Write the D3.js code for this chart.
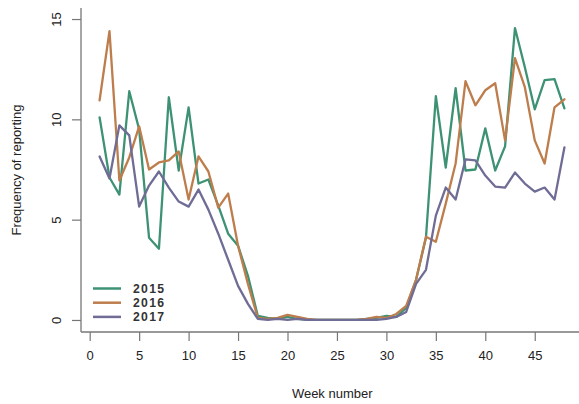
<!DOCTYPE html>
<html><head><meta charset="utf-8">
<script src="https://cdn.jsdelivr.net/npm/d3@7"></script>
<style>
html,body{margin:0;padding:0;background:#fff;}
svg{display:block;font-family:"Liberation Sans",Arial,Helvetica,sans-serif;}
</style></head>
<body>
<script>
const weeks = d3.range(1, 49);
const years = ["2015", "2016", "2017"];
const colors = ["#3e9274", "#bd7d4c", "#6f6c95"];
const v2015 = [10.1,7.1,6.25,11.4,9.5,4.1,3.55,11.1,7.45,10.6,6.8,7.0,5.7,4.3,3.7,2.2,0.2,0.1,0.05,0.15,0.05,0,0,0,0,0,0,0.05,0.1,0.2,0.15,0.6,2.0,4.1,11.15,7.6,11.55,7.45,7.5,9.55,7.45,8.65,14.55,12.6,10.5,11.95,12.0,10.55];
const v2016 = [10.95,14.4,6.95,8.1,9.65,7.5,7.85,7.95,8.4,6.0,8.15,7.4,5.6,6.3,3.7,1.8,0.1,0.05,0.1,0.25,0.15,0.05,0,0,0,0,0,0.05,0.15,0.1,0.3,0.7,2.0,4.15,3.9,5.8,7.8,11.9,10.7,11.45,11.8,8.95,13.05,11.6,8.95,7.8,10.6,11.0];
const v2017 = [8.15,7.05,9.7,9.2,5.65,6.7,7.4,6.6,5.9,5.65,6.5,5.5,4.3,3.0,1.7,0.8,0.05,0,0.05,0,0.05,0,0,0,0,0,0,0,0,0.05,0.15,0.4,1.8,2.5,5.2,6.6,6.0,8.0,7.95,7.2,6.65,6.6,7.35,6.8,6.4,6.6,6.0,8.6];
const xTicks = [0,5,10,15,20,25,30,35,40,45];
const yTicks = [0,5,10,15];
const xLabel = "Week number";
const yLabel = "Frequency of reporting";

const series = [v2015, v2016, v2017];
const W = 579, H = 404;
const svg = d3.select("body").append("svg").attr("width", W).attr("height", H);

const x = d3.scaleLinear().domain([-0.88, 49.88]).range([81, 583]);
const y = d3.scaleLinear().domain([-0.6, 15.55]).range([332, 8]);

const axisColor = "#777";
const textColor = "#222";

// box (bty = "l")
svg.append("line").attr("x1", x.range()[0]).attr("x2", x.range()[0])
  .attr("y1", y.range()[1]).attr("y2", y.range()[0])
  .attr("stroke", axisColor).attr("stroke-width", 1.3);
svg.append("line").attr("x1", x.range()[0]).attr("x2", W)
  .attr("y1", y.range()[0]).attr("y2", y.range()[0])
  .attr("stroke", axisColor).attr("stroke-width", 1.3);

// x axis
const xa = svg.append("g").attr("transform", `translate(0,${y.range()[0]})`)
  .call(d3.axisBottom(x).tickValues(xTicks).tickSize(9).tickPadding(10).tickFormat(d3.format("d")));
xa.select(".domain").remove();
xa.selectAll(".tick line").attr("stroke", axisColor).attr("stroke-width", 1.2);
xa.selectAll(".tick text").attr("fill", textColor).attr("font-size", 13)
  .attr("font-family", "Liberation Sans, Arial, sans-serif");

// y axis
const ya = svg.append("g").attr("transform", `translate(${x.range()[0]},0)`)
  .call(d3.axisLeft(y).tickValues(yTicks).tickSize(9).tickFormat(d3.format("d")));
ya.select(".domain").remove();
ya.selectAll(".tick line").attr("stroke", axisColor).attr("stroke-width", 1.2);
ya.selectAll(".tick text").attr("fill", textColor).attr("font-size", 13)
  .attr("font-family", "Liberation Sans, Arial, sans-serif")
  .attr("x", null).attr("dy", null)
  .attr("text-anchor", "middle")
  .attr("transform", "translate(-25,0) rotate(-90)")
  .attr("dy", "0.35em");

// axis titles
svg.append("text").attr("x", (x(0) + x(45)) / 2 + 20).attr("y", 398)
  .attr("text-anchor", "middle").attr("font-size", 13).attr("fill", textColor).text(xLabel);
svg.append("text").attr("transform", `translate(21,${(y.range()[0] + y.range()[1]) / 2}) rotate(-90)`)
  .attr("text-anchor", "middle").attr("font-size", 13).attr("fill", textColor).text(yLabel);

// lines
const line = d3.line().x((d, i) => x(weeks[i])).y(d => y(d));
series.forEach((s, k) => {
  svg.append("path").datum(s).attr("d", line).attr("fill", "none")
    .attr("stroke", colors[k]).attr("stroke-width", 2.3)
    .attr("stroke-linejoin", "round").attr("stroke-linecap", "round");
});

// legend
const lg = svg.append("g");
years.forEach((yr, k) => {
  const ly = 288.5 + k * 14.2;
  lg.append("line").attr("x1", 93).attr("x2", 121).attr("y1", ly).attr("y2", ly)
    .attr("stroke", colors[k]).attr("stroke-width", 2.5);
  lg.append("text").attr("x", 133).attr("y", ly).attr("dy", "0.36em")
    .attr("font-size", 12.2).attr("font-weight", "bold").attr("letter-spacing", 1.3)
    .attr("fill", "#333").text(yr);
});
</script>
</body></html>
